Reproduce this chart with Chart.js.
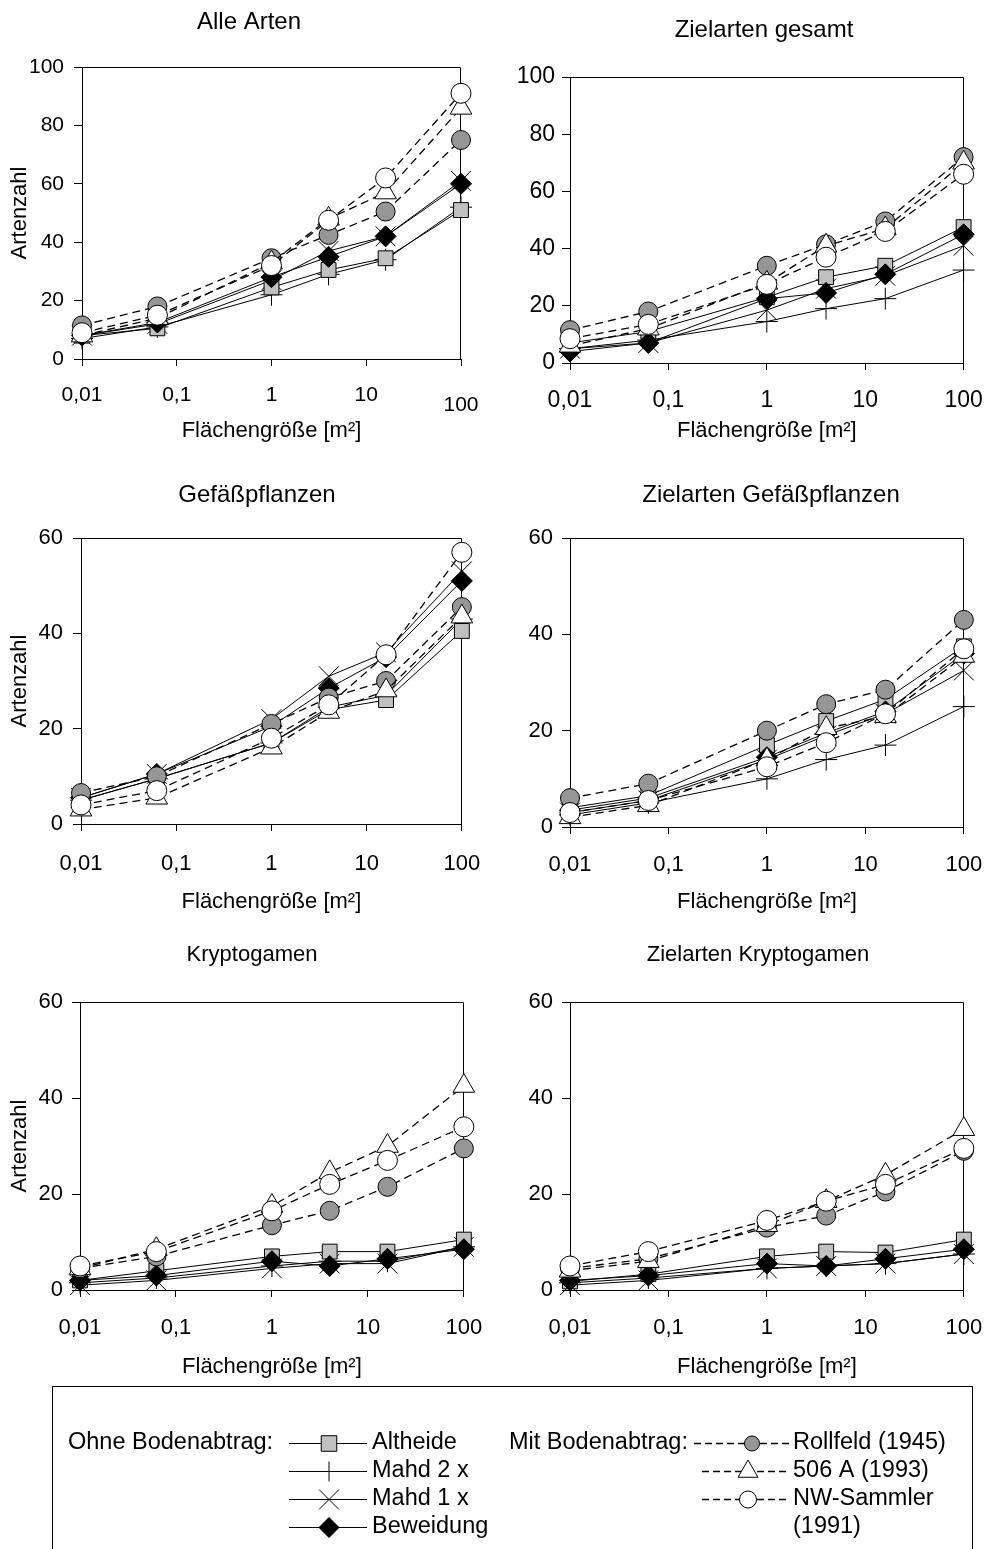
<!DOCTYPE html>
<html lang="de">
<head>
<meta charset="utf-8">
<title>Artenzahl und Flächengröße</title>
<script src="https://cdn.jsdelivr.net/npm/chart.js@4.4.1/dist/chart.umd.min.js"></script>
<style>
  html, body { margin: 0; padding: 0; background: #fff; }
  #page { position: relative; width: 1000px; height: 1549px; overflow: hidden; background: #fff; }
  #page canvas { position: absolute; }
</style>
</head>
<body>
<div id="page"></div>
<script>
"use strict";

/* ── Daten ─────────────────────────────────────────────────────── */
const X_VALUES = [0.01, 0.0625, 1, 4, 16, 100];   // Flächengröße [m²]
const X_TICKS  = [0.01, 0.1, 1, 10, 100];

const SERIES_NAMES = [
  "Altheide", "Mahd 2 x", "Mahd 1 x", "Beweidung",
  "Rollfeld (1945)", "506 A (1993)", "NW-Sammler (1991)"
];

// Zeilen in Reihenfolge von SERIES_NAMES
const ALLE_ARTEN = [
  [8,    10.5, 24.5, 30.5, 34.5, 51],
  [7,    11,   22,   29,   34,   52],
  [8,    12,   27,   37,   42,   61],
  [8,    12.5, 28,   35,   42,   60],
  [11.5, 18,   34.5, 42.5, 50.5, 75],
  [8,    14,   33,   48,   57,   86],
  [9,    15,   32,   47.5, 62,   91],
];

const ZIELARTEN_GESAMT = [
  [7,    11,   23,   30,   34,   47.5],
  [5,    8,    14.5, 19,   22.5, 32.5],
  [5,    7,    18.5, 26,   30.5, 41],
  [4,    7,    22.5, 24.5, 31,   45],
  [11.5, 18,   34,   41.5, 49.5, 72],
  [6,    12,   28,   41,   47,   70],
  [8.5,  13.5, 27.5, 37,   46,   66],
];

const GEFAESSPFLANZEN = [
  [5,    9.5,  17,   24,   26,   40.5],
  [5,    9.5,  17,   24.5, 27,   43],
  [5.5,  10.5, 22,   31,   36,   53],
  [5.5,  10.5, 20.5, 28.5, 35,   51],
  [6.5,  10,   21,   26.5, 30,   45.5],
  [3,    5.5,  16,   23.5, 28,   43.5],
  [4,    7,    18,   25,   35.5, 57],
];

const ZIELARTEN_GEFAESS = [
  [4,    6.5,  17,   22,   26.5, 37.5],
  [2.5,  5,    10,   14,   17,   25],
  [3,    5.5,  14,   19,   23.5, 32.5],
  [3.5,  6,    14.5, 19.5, 24,   36],
  [6,    9,    20,   25.5, 28.5, 43],
  [2,    4.5,  14,   20.5, 23,   35.5],
  [3,    5.5,  12.5, 17.5, 23.5, 37],
];

const KRYPTOGAMEN = [
  [2,    4,    7,    8,    8,    10.5],
  [1.5,  2.5,  5,    6,    6,    9],
  [1,    2,    4.5,  5.5,  5.5,  9],
  [2,    3,    6,    5,    6.5,  8.5],
  [4.5,  7,    13.5, 16.5, 21.5, 29.5],
  [4.5,  8.5,  17.5, 24.5, 30,   42.5],
  [5,    8,    16.5, 22,   27,   34],
];

const ZIELARTEN_KRYPTO = [
  [1.8,  3.3,  7,    8,    7.8,  10.5],
  [1.5,  2.5,  4.5,  5,    5.5,  7.5],
  [1,    2,    4.5,  5,    5.5,  7.5],
  [2,    3,    5.5,  5,    6.5,  8.5],
  [4.5,  6.5,  13,   15.5, 20.5, 29],
  [4,    6,    13.5, 18.5, 24,   33.5],
  [5,    8,    14.5, 18.5, 22,   29.5],
];

/* ── Stil ──────────────────────────────────────────────────────── */
const FONT = "'Liberation Sans', Arial, Helvetica, sans-serif";
const DASH = [8, 5];

// order: kleiner = weiter oben gezeichnet
const SERIES_STYLE = [
  { point: "rect",     r: 10.5, fill: "#c0c0c0", dash: [],   order: 4 },
  { point: "cross",    r: 11,   fill: "#000",    dash: [],   order: 6 },
  { point: "crossRot", r: 14,   fill: "#000",    dash: [],   order: 5 },
  { point: "rectRot",  r: 10.5, fill: "#000",    dash: [],   order: 3 },
  { point: "circle",   r: 9.5,  fill: "#969696", dash: DASH, order: 2 },
  { point: "triangle", r: 12.5, fill: "#fff",    dash: DASH, order: 1 },
  { point: "circle",   r: 10,   fill: "#fff",    dash: DASH, order: 0 },
];

/* ── Panels: Lage auf der Seite ────────────────────────────────── */
const PANELS = [
  { title: "Alle Arten",              data: ALLE_ARTEN,        yMax: 100, left: 0,   top: 0,
    titleX: 249, titleY: 22, titleSize: 24, plotL: 82,  plotR: 461, plotT: 67,   plotB: 359,
    tickSize: 21, xLabelY: 395,  yTickPad: 10, xTitleY: 431,  yTitle: true, lowLast: true },
  { title: "Zielarten gesamt",        data: ZIELARTEN_GESAMT,  yMax: 100, left: 500, top: 0,
    titleX: 264, titleY: 30, titleSize: 24, plotL: 570, plotR: 974, plotT: 77,   plotB: 363,
    tickSize: 23, xLabelY: 401,  yTickPad: 7,  xTitleY: 431,  yTitle: false },
  { title: "Gefäßpflanzen",           data: GEFAESSPFLANZEN,   yMax: 60,  left: 0,   top: 460,
    titleX: 257, titleY: 35, titleSize: 24, plotL: 81,  plotR: 466, plotT: 538,  plotB: 824,
    tickSize: 22, xLabelY: 864,  yTickPad: 10, xTitleY: 902,  yTitle: true },
  { title: "Zielarten Gefäßpflanzen", data: ZIELARTEN_GEFAESS, yMax: 60,  left: 500, top: 460,
    titleX: 271, titleY: 35, titleSize: 24, plotL: 570, plotR: 974, plotT: 538,  plotB: 827,
    tickSize: 22, xLabelY: 865,  yTickPad: 9,  xTitleY: 902,  yTitle: false },
  { title: "Kryptogamen",             data: KRYPTOGAMEN,       yMax: 60,  left: 0,   top: 920,
    titleX: 252, titleY: 35, titleSize: 22, plotL: 80,  plotR: 465, plotT: 1002, plotB: 1290,
    tickSize: 22, xLabelY: 1328, yTickPad: 9,  xTitleY: 1367, yTitle: true },
  { title: "Zielarten Kryptogamen",   data: ZIELARTEN_KRYPTO,  yMax: 60,  left: 500, top: 920,
    titleX: 258, titleY: 35, titleSize: 22, plotL: 570, plotR: 973, plotT: 1002, plotB: 1290,
    tickSize: 22, xLabelY: 1328, yTickPad: 9,  xTitleY: 1367, yTitle: false },
];

const CANVAS_W = 500;
const CANVAS_H = 460;
const X_TICK_LEN = 7;
const Y_TICK_LEN = 8;
const AXIS_TITLE_SIZE = 22;
const LABEL_LH = 1.2;

Chart.defaults.font.family = FONT;
Chart.defaults.color = "#000";

/* ── Plugins ───────────────────────────────────────────────────── */
const framePlugin = {
  id: "frame",
  beforeDatasetsDraw(chart) {
    const { ctx, chartArea: a } = chart;
    const l = Math.round(a.left) + 0.5, r = Math.round(a.right) - 0.5;
    const t = Math.round(a.top) + 0.5,  b = Math.round(a.bottom) + 0.5;
    ctx.save();
    ctx.strokeStyle = "#000";
    ctx.lineWidth = 1;
    ctx.beginPath();
    ctx.moveTo(l, t);
    ctx.lineTo(r, t);
    ctx.lineTo(r, b);
    ctx.stroke();
    ctx.restore();
  }
};

const panelTitlePlugin = {
  id: "panelTitle",
  afterDraw(chart, args, opts) {
    const ctx = chart.ctx;
    ctx.save();
    ctx.font = `${opts.size}px ${FONT}`;
    ctx.fillStyle = "#000";
    ctx.textAlign = "center";
    ctx.textBaseline = "middle";
    ctx.fillText(opts.text, opts.x, opts.y);
    ctx.restore();
  }
};

function tickLabel(v) {
  return String(v).replace(".", ",");
}

/* ── Panel bauen ───────────────────────────────────────────────── */
function buildPanel(p) {
  const cv = document.createElement("canvas");
  cv.width = CANVAS_W;
  cv.height = CANVAS_H;
  cv.style.left = p.left + "px";
  cv.style.top = p.top + "px";
  document.getElementById("page").appendChild(cv);

  const yAxisW  = p.plotL - p.left;
  const padR    = p.left + CANVAS_W - p.plotR;
  const padT    = p.plotT - p.top;
  const xAxisH  = p.top + CANVAS_H - p.plotB;
  // Beschriftung: Mitte der ersten Zeile = Oberkante + lineHeight/2
  const xTickPad = Math.max(0, p.xLabelY - p.tickSize * LABEL_LH / 2 - p.plotB - X_TICK_LEN);
  const lh = AXIS_TITLE_SIZE * 1.2;
  const xTitlePadB = Math.max(0, p.top + CANVAS_H - p.xTitleY - lh / 2);

  const datasets = SERIES_NAMES.map((name, i) => {
    const s = SERIES_STYLE[i];
    return {
      label: name,
      data: X_VALUES.map((x, j) => ({ x, y: p.data[i][j] })),
      order: s.order,
      borderColor: "#000",
      borderWidth: s.dash.length ? 1.3 : 1,
      borderDash: s.dash,
      tension: 0,
      fill: false,
      clip: false,
      pointStyle: s.point,
      pointRadius: s.r,
      pointHoverRadius: s.r,
      pointBackgroundColor: s.fill,
      pointBorderColor: "#000",
      pointBorderWidth: 1,
      pointHoverBorderWidth: 1,
    };
  });

  const lastTick = X_TICKS[X_TICKS.length - 1];
  // im ersten Panel sitzt "100" etwas tiefer
  const lowLH = (p.tickSize * LABEL_LH / 2 + 10) / (1.5 * p.tickSize);

  return new Chart(cv, {
    type: "line",
    data: { datasets },
    plugins: [framePlugin, panelTitlePlugin],
    options: {
      responsive: false,
      animation: false,
      events: [],
      layout: { padding: { left: 0, right: padR, top: padT, bottom: 0 } },
      scales: {
        x: {
          type: "logarithmic",
          min: 0.01,
          max: 100,
          afterBuildTicks: scale => { scale.ticks = X_TICKS.map(value => ({ value })); },
          afterFit: scale => { scale.height = xAxisH; },
          ticks: {
            autoSkip: false, maxRotation: 0, minRotation: 0,
            padding: xTickPad,
            color: "#000",
            font: c => (p.lowLast && c.tick && c.tick.value === lastTick)
              ? { size: p.tickSize, lineHeight: lowLH }
              : { size: p.tickSize, lineHeight: LABEL_LH },
            callback: v => (p.lowLast && v === lastTick) ? ["", tickLabel(v)] : tickLabel(v),
          },
          grid: { drawOnChartArea: false, drawTicks: true, tickLength: X_TICK_LEN, color: "#000", lineWidth: 1 },
          border: { display: true, color: "#000", width: 1 },
          title: {
            display: true, text: "Flächengröße [m²]", color: "#000",
            font: { size: AXIS_TITLE_SIZE }, padding: { top: 0, bottom: xTitlePadB },
          },
        },
        y: {
          type: "linear",
          min: 0,
          max: p.yMax,
          afterFit: scale => { scale.width = yAxisW; },
          ticks: { stepSize: 20, padding: p.yTickPad, font: { size: p.tickSize }, color: "#000" },
          grid: { drawOnChartArea: false, drawTicks: true, tickLength: Y_TICK_LEN, color: "#000", lineWidth: 1 },
          border: { display: true, color: "#000", width: 1 },
          title: {
            display: p.yTitle, text: "Artenzahl", color: "#000",
            font: { size: AXIS_TITLE_SIZE }, padding: { top: 20 - lh / 2, bottom: 0 },
          },
        },
      },
      plugins: {
        legend: { display: false },
        tooltip: { enabled: false },
        title: { display: false },
        panelTitle: { text: p.title, x: p.titleX, y: p.titleY, size: p.titleSize },
      },
    },
  });
}

PANELS.forEach(buildPanel);

/* ── Legende ───────────────────────────────────────────────────── */
const LEGEND_LABELS = [
  ["Altheide"], ["Mahd 2 x"], ["Mahd 1 x"], ["Beweidung"],
  ["Rollfeld (1945)"], ["506 A (1993)"], ["NW-Sammler", "(1991)"]
];
const LEGEND_R = [11, 10, 14, 10, 7.5, 11.5, 8.5];

function drawLegend() {
  const top = 1380;
  const cv = document.createElement("canvas");
  cv.width = 1000;
  cv.height = 169;
  cv.style.left = "0px";
  cv.style.top = top + "px";
  document.getElementById("page").appendChild(cv);
  const ctx = cv.getContext("2d");

  const rowY = [1443, 1471, 1499, 1527].map(y => y - top);

  ctx.strokeStyle = "#000";
  ctx.lineWidth = 1;
  ctx.strokeRect(52.5, 6.5, 920, 300);

  ctx.font = `23.5px ${FONT}`;
  ctx.fillStyle = "#000";
  ctx.textBaseline = "middle";
  ctx.textAlign = "left";
  ctx.fillText("Ohne Bodenabtrag:", 68, rowY[0]);
  ctx.fillText("Mit Bodenabtrag:", 509, rowY[0]);

  const drawPoint = (Chart.helpers && Chart.helpers.drawPoint) || null;

  SERIES_STYLE.forEach((s, i) => {
    const right = i >= 4;
    const row = right ? i - 4 : i;
    const y = rowY[row] + 0.5;
    const x0 = right ? (row === 0 ? 694 : 702) : 289;
    const x1 = right ? 790 : 367;
    const mx = right ? (row === 0 ? 752 : 748) : 329;

    ctx.save();
    ctx.strokeStyle = "#000";
    ctx.lineWidth = s.dash.length ? 1.3 : 1;
    ctx.setLineDash(s.dash.length ? [7, 4] : []);
    ctx.beginPath();
    ctx.moveTo(x0, y);
    ctx.lineTo(x1, y);
    ctx.stroke();
    ctx.setLineDash([]);
    ctx.fillStyle = s.fill;
    ctx.lineWidth = 1;
    if (drawPoint) {
      drawPoint(ctx, { pointStyle: s.point, rotation: 0, radius: LEGEND_R[i], borderWidth: 1 }, mx, y);
    }
    ctx.restore();

    const tx = right ? 793 : 372;
    LEGEND_LABELS[i].forEach((t, k) => {
      ctx.fillText(t, tx, rowY[row + k]);
    });
  });
}

drawLegend();
</script>
</body>
</html>
